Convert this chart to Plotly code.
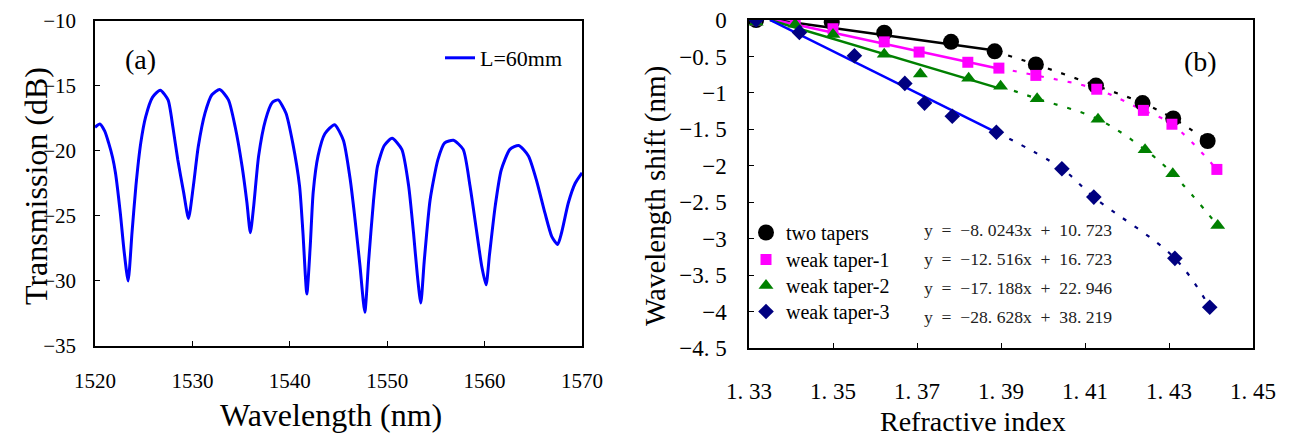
import plotly.graph_objects as go

# ---------------- Panel (a) data: transmission spectrum ----------------
wavelength_nm = [
    1520.0, 1520.5, 1521.0, 1521.4, 1521.8, 1522.1, 1522.6, 1523.0, 1523.4, 1523.8,
    1524.2, 1524.7, 1525.2, 1525.9, 1526.7, 1527.5, 1528.0, 1528.5, 1529.1, 1529.6,
    1530.1, 1530.6, 1531.3, 1532.0, 1532.8, 1533.7, 1534.4, 1535.1, 1535.6, 1535.95,
    1536.3, 1536.8, 1537.5, 1538.2, 1538.8, 1539.6, 1540.3, 1541.0, 1541.35, 1541.75,
    1542.1, 1542.4, 1542.9, 1543.6, 1544.6, 1545.5, 1546.2, 1546.7, 1547.2, 1547.7,
    1548.1, 1548.6, 1549.0, 1549.7, 1550.5, 1551.5, 1552.2, 1552.7, 1553.1, 1553.45,
    1553.8, 1554.4, 1555.2, 1555.9, 1556.8, 1557.8, 1558.5, 1559.2, 1559.7, 1560.15,
    1560.5, 1561.1, 1561.7, 1562.6, 1563.5, 1564.5, 1565.3, 1566.2, 1566.9, 1567.5,
    1567.9, 1568.6, 1569.3, 1570.0,
]
transmission_db = [
    -18.2, -17.95, -18.5, -19.4, -20.5, -21.7, -24.8, -27.8, -30.0, -26.3,
    -22.7, -19.4, -17.4, -15.9, -15.35, -16.1, -18.2, -20.7, -23.2, -25.2,
    -22.7, -19.7, -17.1, -15.7, -15.3, -16.1, -18.2, -21.2, -24.0, -26.3,
    -24.2, -20.4, -17.65, -16.3, -16.1, -17.1, -19.4, -22.7, -26.3, -31.0,
    -27.3, -23.2, -20.4, -18.7, -18.0, -19.2, -22.2, -25.3, -28.8, -32.4,
    -28.4, -23.8, -21.2, -19.6, -19.05, -19.9, -22.7, -26.3, -29.6, -31.7,
    -28.5, -23.8, -20.7, -19.4, -19.2, -19.9, -22.7, -26.3, -28.85, -30.3,
    -28.0, -24.2, -21.5, -19.9, -19.6, -20.4, -22.2, -24.8, -26.6, -27.2,
    -26.3, -24.0, -22.5, -21.7,
]
spectrum_name = "L=60mm"

# ---------------- Panel (b) data: wavelength shift vs RI ----------------
series_names = ["two tapers", "weak taper-1", "weak taper-2", "weak taper-3"]

ri_two = [1.3317, 1.3497, 1.3622, 1.3781, 1.3885, 1.3983, 1.4126, 1.4237, 1.4310, 1.4392]
shift_two = [0.0, -0.03, -0.175, -0.30, -0.43, -0.61, -0.90, -1.14, -1.35, -1.66]

ri_w1 = [1.3317, 1.341, 1.350, 1.3622, 1.3705, 1.3821, 1.3895, 1.3983, 1.4128, 1.4239, 1.4307, 1.4414]
shift_w1 = [0.0, -0.015, -0.12, -0.30, -0.44, -0.58, -0.66, -0.76, -0.95, -1.24, -1.43, -2.05]

ri_w2 = [1.3317, 1.341, 1.350, 1.3622, 1.3708, 1.3823, 1.3899, 1.3986, 1.4131, 1.4243, 1.4309, 1.4416]
shift_w2 = [-0.03, -0.06, -0.20, -0.47, -0.74, -0.80, -0.91, -1.08, -1.36, -1.78, -2.11, -2.82]

ri_w3 = [1.3317, 1.342, 1.3551, 1.3671, 1.3718, 1.3784, 1.3889, 1.4045, 1.4121, 1.4314, 1.4397]
shift_w3 = [0.0, -0.17, -0.49, -0.87, -1.14, -1.32, -1.54, -2.04, -2.43, -3.27, -3.94]

# linear fits shown on the chart (slope, intercept)
fit_slopes = [-8.0243, -12.516, -17.188, -28.628]
fit_intercepts = [10.723, 16.723, 22.946, 38.219]
fit_range = [1.335, 1.389]
fit_labels = [
    "y  =  −8. 0243x  +  10. 723",
    "y  =  −12. 516x  +  16. 723",
    "y  =  −17. 188x  +  22. 946",
    "y  =  −28. 628x  +  38. 219",
]
# index where the dashed (nonlinear) part begins in each series
dash_start = [4, 6, 6, 6]

ri_ticks = [1.33, 1.35, 1.37, 1.39, 1.41, 1.43, 1.45]
ri_ticktext = ["1. 33", "1. 35", "1. 37", "1. 39", "1. 41", "1. 43", "1. 45"]
shift_ticks = [0, -0.5, -1, -1.5, -2, -2.5, -3, -3.5, -4, -4.5]
shift_ticktext = ["0", "−0. 5", "−1", "−1. 5", "−2", "−2. 5", "−3", "−3. 5", "−4", "−4. 5"]

# ---------------- styling ----------------
W, H = 1289, 439
FONT = "'Liberation Serif', 'Times New Roman', serif"
NB = "\u00a0"

def px_x(p):
    return p / W

def px_y(p):
    return 1 - p / H

marker_colors = ["#000000", "#FF00FF", "#008000", "#000080"]
fit_colors = ["#000000", "#FF00FF", "#008000", "#0000FF"]
symbols = ["circle", "square", "triangle-up", "diamond"]
sizes = [16, 11, 13, 12]
legend_ids = ["legend2", "legend3", "legend4", "legend5"]
legend_row_tops = [213, 240, 266, 292]

fig = go.Figure()

# Panel (a)
fig.add_trace(go.Scatter(
    x=wavelength_nm, y=transmission_db, mode="lines", name=spectrum_name,
    line=dict(color="#0000FF", width=3, shape="spline", smoothing=0.6),
    xaxis="x", yaxis="y", legend="legend",
))

# Panel (b)
all_x = [ri_two, ri_w1, ri_w2, ri_w3]
all_y = [shift_two, shift_w1, shift_w2, shift_w3]

for i in range(4):
    fx = fit_range
    fy = [fit_slopes[i] * v + fit_intercepts[i] for v in fx]
    fig.add_trace(go.Scatter(
        x=fx, y=fy, mode="lines", showlegend=False,
        line=dict(color=fit_colors[i], width=2.5),
        xaxis="x2", yaxis="y2",
    ))
    s = dash_start[i]
    fig.add_trace(go.Scatter(
        x=all_x[i][s:], y=all_y[i][s:], mode="lines", showlegend=False,
        line=dict(color=marker_colors[i], width=2.2, dash="4px,10px", shape="spline", smoothing=1.0),
        xaxis="x2", yaxis="y2",
    ))

for i in range(4):
    fig.add_trace(go.Scatter(
        x=all_x[i], y=all_y[i], mode="markers", name=series_names[i],
        marker=dict(symbol=symbols[i], size=sizes[i], color=marker_colors[i], line=dict(width=0)),
        xaxis="x2", yaxis="y2", legend=legend_ids[i],
    ))

axis_common = dict(
    showline=True, linecolor="#000000", linewidth=1.5, mirror=True,
    ticks="inside", ticklen=5, tickwidth=1, tickcolor="#000000",
    showgrid=False, zeroline=False, automargin=False,
)

annotations = [
    dict(text="(a)", x=px_x(140), y=px_y(60), xref="paper", yref="paper",
         showarrow=False, font=dict(family=FONT, size=28, color="#000"), xanchor="center", yanchor="middle"),
    dict(text="(b)", x=px_x(1200), y=px_y(62), xref="paper", yref="paper",
         showarrow=False, font=dict(family=FONT, size=28, color="#000"), xanchor="center", yanchor="middle"),
    dict(text="Transmission (dB)", x=px_x(36), y=px_y(186), xref="paper", yref="paper", textangle=-90,
         showarrow=False, font=dict(family=FONT, size=32, color="#000"), xanchor="center", yanchor="middle"),
    dict(text="Wavelength (nm)", x=px_x(331), y=px_y(415), xref="paper", yref="paper",
         showarrow=False, font=dict(family=FONT, size=32, color="#000"), xanchor="center", yanchor="middle"),
    dict(text="Wavelength shift (nm)", x=px_x(655), y=px_y(196), xref="paper", yref="paper", textangle=-90,
         showarrow=False, font=dict(family=FONT, size=29, color="#000"), xanchor="center", yanchor="middle"),
    dict(text="Refractive index", x=px_x(973), y=px_y(421), xref="paper", yref="paper",
         showarrow=False, font=dict(family=FONT, size=28, color="#000"), xanchor="center", yanchor="middle"),
]
eq_rows = [230, 259, 288, 317]
for lbl, ry in zip(fit_labels, eq_rows):
    annotations.append(dict(
        text=lbl.replace(" ", NB), x=px_x(922), y=px_y(ry), xref="paper", yref="paper",
        showarrow=False, font=dict(family=FONT, size=17.6, color="#222"), xanchor="left", yanchor="middle"))

legend_layout = {}
for lid, top in zip(legend_ids, legend_row_tops):
    legend_layout[lid] = dict(x=px_x(746), y=px_y(top), xanchor="left", yanchor="top",
                              bgcolor="rgba(0,0,0,0)", borderwidth=0,
                              font=dict(family=FONT, size=20, color="#000"))

fig.update_layout(
    template="none",
    width=W, height=H,
    margin=dict(l=0, r=0, t=0, b=0, pad=0),
    paper_bgcolor="white", plot_bgcolor="white",
    font=dict(family=FONT, color="#000"),
    xaxis=dict(domain=[px_x(95), px_x(582)], range=[1520, 1570], dtick=10, tick0=1520,
               tickfont=dict(family=FONT, size=21, color="#000"), ticklabelstandoff=15, anchor="y", **axis_common),
    yaxis=dict(domain=[px_y(346), px_y(20.5)], range=[-35, -10], dtick=5, tick0=-35,
               tickfont=dict(family=FONT, size=21, color="#000"), ticklabelstandoff=13, anchor="x", **axis_common),
    xaxis2=dict(domain=[px_x(749), px_x(1253)], range=[1.33, 1.45], tickvals=ri_ticks, ticktext=ri_ticktext,
                tickfont=dict(family=FONT, size=23, color="#000"), ticklabelstandoff=22, anchor="y2", **axis_common),
    yaxis2=dict(domain=[px_y(348), px_y(20)], range=[-4.5, 0], tickvals=shift_ticks, ticktext=shift_ticktext,
                tickfont=dict(family=FONT, size=23, color="#000"), ticklabelstandoff=16, anchor="x2", **axis_common),
    legend=dict(x=px_x(440), y=px_y(37), xanchor="left", yanchor="top", bgcolor="rgba(0,0,0,0)",
                borderwidth=0, font=dict(family=FONT, size=22, color="#000")),
    annotations=annotations,
    showlegend=True,
    **legend_layout,
)

fig.write_html("out.html")
